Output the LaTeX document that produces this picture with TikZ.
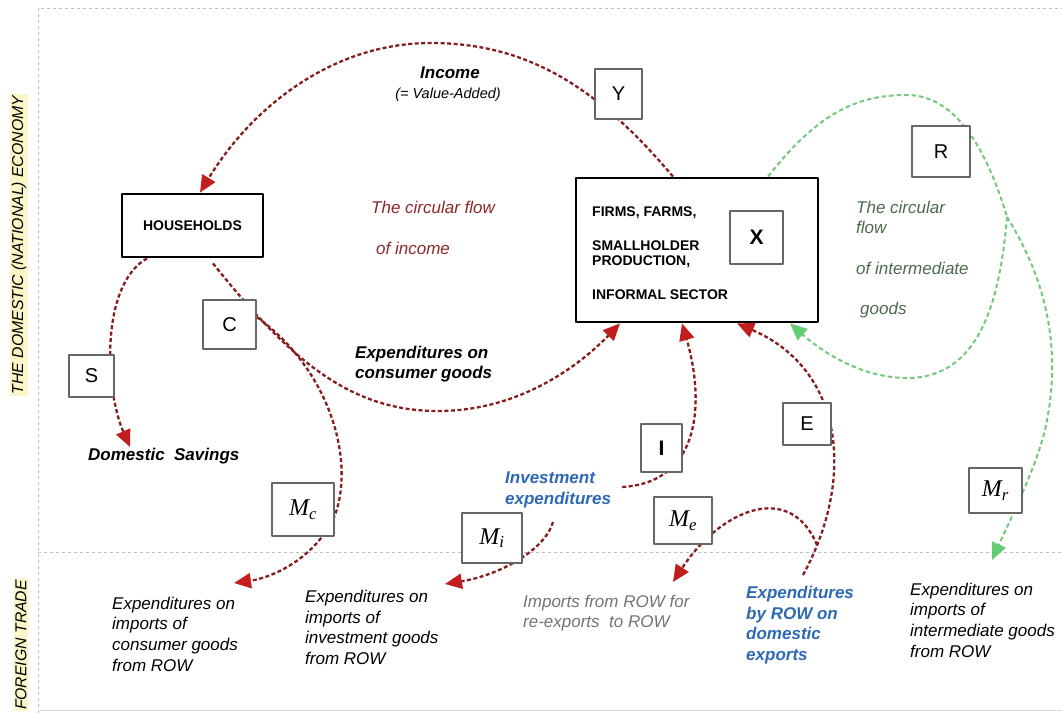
\documentclass[tikz,border=0pt]{standalone}
\usepackage{fontspec}
\setmainfont{Liberation Sans}
\newfontfamily\varserif{Liberation Serif}
\usetikzlibrary{arrows.meta, positioning, calc}

\definecolor{flowred}{RGB}{135,30,30}
\definecolor{tipred}{RGB}{195,30,30}
\definecolor{flowgreen}{RGB}{115,200,125}
\definecolor{tipgreen}{RGB}{100,205,115}
\definecolor{txtgreen}{RGB}{75,105,75}
\definecolor{txtred}{RGB}{140,40,40}
\definecolor{txtblue}{RGB}{45,105,180}
\definecolor{framegrey}{RGB}{190,190,190}
\definecolor{hilite}{RGB}{250,246,200}

\pgfdeclarelayer{bg}
\pgfsetlayers{bg,main}

\begin{document}
\begin{tikzpicture}[x=1pt, y=-1pt, line join=round]
        \tikzset{
            bigbox/.style={draw, line width=2.8pt, fill=white, inner sep=0pt},
            varbox/.style={draw=black!60, line width=1.4pt, fill=white, inner sep=0pt, font=\fontsize{20}{20}\selectfont},
            mathbox/.style={varbox, font=\fontsize{24}{24}\selectfont\varserif\itshape},
            boxtext/.style={font=\fontsize{14}{15}\selectfont\bfseries, inner sep=0pt, align=left, anchor=west},
            flowtext/.style={font=\fontsize{17}{20.7}\selectfont\itshape, inner sep=0pt, align=left, anchor=west},
            boldtext/.style={flowtext, font=\fontsize{17}{20.7}\selectfont\bfseries\itshape},
            sidelabel/.style={rotate=90, fill=hilite, inner sep=1.5pt, font=\fontsize{15.8}{16}\selectfont\itshape},
            redflow/.style={draw=flowred, line width=2.3pt, dash pattern=on 4pt off 2.5pt, -{Triangle[length=17pt, width=15pt, color=tipred]}},
            greenflow/.style={draw=flowgreen, line width=2pt, dash pattern=on 4.5pt off 3pt, -{Triangle[length=17pt, width=15pt, color=tipgreen]}}
        }
        \useasboundingbox (0,0) rectangle (1062,713);

        % Side labels
        \node[sidelabel] (dom) at (19,245) {THE DOMESTIC (NATIONAL) ECONOMY};
        \node[sidelabel] (trade) at (21,645) {FOREIGN TRADE};

        % Sectors
        \node[bigbox, minimum width=141pt, minimum height=63pt, font=\fontsize{14}{15}\selectfont\bfseries] (hh) at (192.5,225.5) {HOUSEHOLDS};
        \node[bigbox, minimum width=242pt, minimum height=144pt] (firms) at (697,250) {};
        \node[boxtext] (firms1) at (592,213) {FIRMS, FARMS,};
        \node[boxtext] (firms2) at (592,254.5) {SMALLHOLDER\\PRODUCTION,};
        \node[boxtext] (firms3) at (592,295) {INFORMAL SECTOR};

        % Variable boxes
        \node[varbox, minimum width=53pt, minimum height=53pt, font=\fontsize{21}{21}\selectfont\bfseries] (X) at (756.5,237.5) {X};
        \node[varbox, minimum width=47pt, minimum height=50pt] (Y) at (618.5,94) {Y};
        \node[varbox, minimum width=58pt, minimum height=51pt] (R) at (941,151.5) {R};
        \node[varbox, minimum width=53pt, minimum height=49pt] (C) at (229.5,324.5) {C};
        \node[varbox, minimum width=45pt, minimum height=42pt] (S) at (91.5,376) {S};
        \node[varbox, minimum width=41pt, minimum height=48pt, font=\fontsize{21}{21}\selectfont\bfseries] (I) at (661.5,448) {I};
        \node[varbox, minimum width=48pt, minimum height=42pt] (E) at (807,424) {E};
        \node[mathbox, minimum width=62pt, minimum height=53pt] (Mc) at (303,509.5) {M\textsubscript{c}};
        \node[mathbox, minimum width=60pt, minimum height=50pt] (Mi) at (492,538) {M\textsubscript{i}};
        \node[mathbox, minimum width=58pt, minimum height=47pt] (Me) at (683,520.5) {M\textsubscript{e}};
        \node[mathbox, minimum width=53pt, minimum height=45pt] (Mr) at (995.5,490.5) {M\textsubscript{r}};

        % Flow labels
        \node[boldtext, anchor=center] (income) at (450,73) {Income};
        \node[flowtext, anchor=center, font=\fontsize{14.5}{15}\selectfont\itshape] (vadd) at (448,95) {(= Value-Added)};
        \node[flowtext, text=txtred] (circ1) at (371,207) {The circular flow};
        \node[flowtext, text=txtred] (circ2) at (376,248) {of income};
        \node[boldtext] (cons) at (355,364) {Expenditures on\\consumer goods};
        \node[boldtext] (sav) at (88,456) {Domestic~~Savings};
        \node[boldtext, text=txtblue] (inv) at (505,490) {Investment\\expenditures};
        \node[flowtext, text=txtgreen] (gcirc1) at (856,217.5) {The circular\\flow};
        \node[flowtext, text=txtgreen] (gcirc2) at (856,268) {of intermediate};
        \node[flowtext, text=txtgreen] (gcirc3) at (860,310) {goods};

        % Foreign trade labels
        \node[flowtext] (impc) at (112,634) {Expenditures on\\imports of\\consumer goods\\from ROW};
        \node[flowtext] (impi) at (305,627.5) {Expenditures on\\imports of\\investment goods\\from ROW};
        \node[flowtext, text=black!55] (reexp) at (523,613) {Imports from ROW for\\re-exports~~to ROW};
        \node[boldtext, text=txtblue] (expx) at (746,625) {Expenditures\\by ROW on\\domestic\\exports};
        \node[flowtext] (impr) at (910,620) {Expenditures on\\imports of\\intermediate goods\\from ROW};

        % Free ends
        \coordinate (savtip) at (130,447);
        \coordinate (mctip) at (234,583);
        \coordinate (invsplit) at (553,522);
        \coordinate (mitip) at (445,584);
        \coordinate (exptop) at (803,575);
        \coordinate (mesplit) at (817,545);
        \coordinate (metip) at (673,582);
        \coordinate (gsplit) at (1007,217);
        \coordinate (mrtip) at (992,560);

        \begin{pgfonlayer}{bg}
        % Frame
        \draw[framegrey, dashed, line width=0.8pt] (38,713) -- (38,8) -- (1062,8);
        \draw[framegrey, dashed, line width=0.8pt] (38,552) -- (1062,552);
        \draw[framegrey!60, line width=0.6pt] (38,710) -- (1062,710);

        % Circular flow of income
        \draw[redflow] ([xshift=-24pt]firms.north) .. controls (600,90) and (530,43) .. (431,43) .. controls (330,43) and (250,110) .. ([xshift=7.5pt]hh.north);
        \draw[redflow] ([xshift=-45.5pt]hh.south) .. controls (100,285) and (105,390) .. (savtip);
        \draw[redflow] ([xshift=20.5pt, yshift=-5pt]hh.south) .. controls (290,360) and (350,411) .. (438,411) .. controls (520,411) and (580,365) .. ([xshift=-77pt]firms.south);
        \draw[redflow] ([yshift=7.5pt]C.east) .. controls (330,370) and (355,460) .. (335,515) .. controls (315,560) and (270,578) .. (mctip);
        \draw[redflow] ([xshift=11pt, yshift=3pt]inv.east) .. controls (705,482) and (703,395) .. ([xshift=-15pt]firms.south);
        \draw[redflow] (invsplit) .. controls (545,550) and (500,575) .. (mitip);
        \draw[redflow] (exptop) .. controls (855,480) and (845,370) .. ([xshift=40pt]firms.south);
        \draw[redflow] (mesplit) .. controls (790,480) and (720,510) .. (metip);

        % Circular flow of intermediate goods
        \draw[greenflow, -] ([xshift=71pt]firms.north) .. controls (820,110) and (860,95) .. (907,95) .. controls (960,95) and (990,160) .. (gsplit);
        \draw[greenflow] (gsplit) .. controls (1040,270) and (1065,340) .. (1045,430) .. controls (1035,470) and (1010,520) .. (mrtip);
        \draw[greenflow] (gsplit) .. controls (1000,300) and (980,378) .. (907,378) .. controls (860,378) and (820,350) .. ([xshift=93pt]firms.south);
        \end{pgfonlayer}
    \end{tikzpicture}
\end{document}
